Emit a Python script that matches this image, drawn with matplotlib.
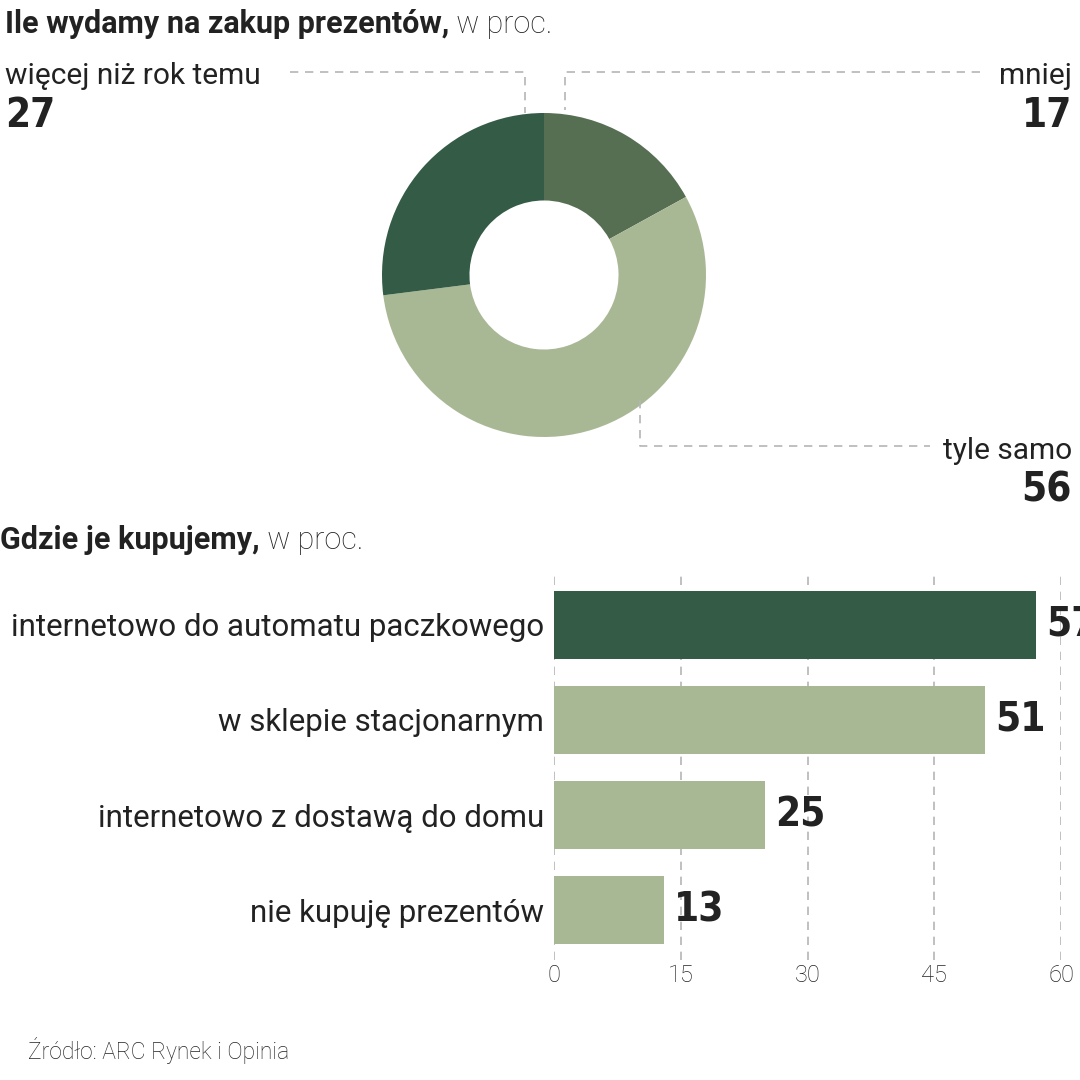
import numpy as np
import matplotlib
matplotlib.use("Agg")
import matplotlib.pyplot as plt
from matplotlib.lines import Line2D

# --- data ---
donut_labels = ["mniej", "tyle samo", "więcej niż rok temu"]
donut_values = [17, 56, 27]
donut_colors = ["#566f52", "#a9b894", "#335b45"]

bar_labels = ["internetowo do automatu paczkowego", "w sklepie stacjonarnym",
              "internetowo z dostawą do domu", "nie kupuję prezentów"]
bar_values = [57, 51, 25, 13]
bar_colors = ["#335b45", "#a9b894", "#a9b894", "#a9b894"]
x_ticks = [0, 15, 30, 45, 60]

title1 = "Ile wydamy na zakup prezentów,"
title2 = "Gdzie je kupujemy,"
unit = " w proc."
source = "Źródło: ARC Rynek i Opinia"

TXT = "#222222"
GRID = "#b5b5b5"
FONT = ["Roboto", "DejaVu Sans"]

W = H = 1080
fig = plt.figure(figsize=(10.8, 10.8), dpi=100)
fig.patch.set_facecolor("white")


def px(x, y):
    return x / W, 1 - y / H


def ftext(x, y, s, **kw):
    kw.setdefault("color", TXT)
    kw.setdefault("family", FONT)
    return fig.text(*px(x, y), s, **kw)


def num(x, y, s, ha="left"):
    return ftext(x, y, s, fontsize=29, fontweight="bold", fontstretch="condensed",
                 family=["DejaVu Sans", "Roboto"], va="baseline", ha=ha)


def title_line(x, y, bold, light):
    t = ftext(x, y, bold, fontsize=22, fontweight="bold", va="baseline")
    r = fig.canvas.get_renderer()
    bb = t.get_window_extent(renderer=r)
    fig.text(bb.x1 / W, 1 - y / H, light, color=TXT, family=FONT,
             fontsize=22, fontweight="light", va="baseline")


def dashed(xs, ys):
    fig.add_artist(Line2D([x / W for x in xs], [1 - y / H for y in ys],
                          color=GRID, lw=1.2, ls=(0, (5, 4))))


# --- donut ---
ax_d = fig.add_axes([382 / W, 1 - 437 / H, 324 / W, 324 / H])
ax_d.pie(donut_values, colors=donut_colors, startangle=90, counterclock=False,
         radius=1, wedgeprops=dict(width=0.54, linewidth=0))
ax_d.set_xlim(-1, 1)
ax_d.set_ylim(-1, 1)
ax_d.set_aspect("equal")
ax_d.axis("off")

title_line(5, 33, title1, unit)

# leader lines
dashed([290, 525, 525], [72, 72, 113])
dashed([980, 565, 565], [72, 72, 110])
dashed([640, 640, 930], [400, 446, 446])

ftext(5, 84, donut_labels[2], fontsize=21.5, va="baseline")
num(5, 127, str(donut_values[2]))
ftext(1072, 84, donut_labels[0], fontsize=21.5, va="baseline", ha="right")
num(1072, 127, str(donut_values[0]), ha="right")
ftext(1072, 459, donut_labels[1], fontsize=21.5, va="baseline", ha="right")
num(1072, 502, str(donut_values[1]), ha="right")

# --- bars ---
title_line(0, 549, title2, unit)

ax_b = fig.add_axes([554 / W, 1 - 960 / H, 507 / W, 385 / H])
y = np.arange(len(bar_values))
ax_b.barh(y, bar_values, height=0.716, color=bar_colors, zorder=2)
ax_b.set_xlim(0, 60)
ax_b.set_ylim(3.526, -0.526)
for t in x_ticks:
    ax_b.axvline(t, color=GRID, lw=1.2, ls=(0, (5, 4)), zorder=1)
for s in ax_b.spines.values():
    s.set_visible(False)
ax_b.set_yticks(y)
ax_b.set_yticklabels(bar_labels, fontsize=22.5, color=TXT, family=FONT)
ax_b.tick_params(axis="y", length=0, pad=7)
ax_b.set_xticks(x_ticks)
ax_b.set_xticklabels([str(t) for t in x_ticks], fontsize=17, color=TXT,
                     family=FONT, fontweight="light")
ax_b.tick_params(axis="x", length=0, pad=3)
for yi, v in zip(y, bar_values):
    ax_b.text(v + 1.2, yi, str(v), va="center", ha="left", fontsize=29,
              fontweight="bold", fontstretch="condensed", color=TXT,
              family=["DejaVu Sans", "Roboto"], clip_on=False)

ftext(28, 1059, source, fontsize=16.5, fontweight="light", va="baseline",
      color=TXT)

fig.savefig("out.png", dpi=100, facecolor="white")
